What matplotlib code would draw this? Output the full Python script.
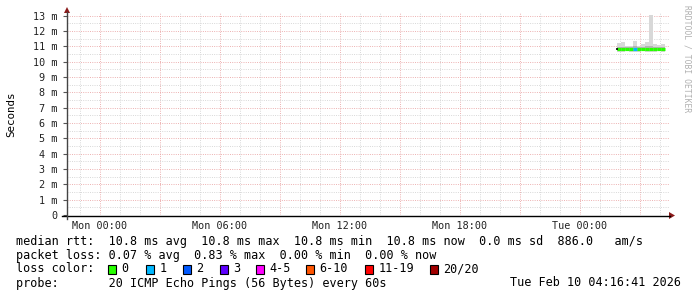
"""Smokeping-style latency chart (RRDtool look), saved as out.png."""

import matplotlib

matplotlib.use("Agg")
import matplotlib.pyplot as plt  # noqa: E402
from matplotlib.patches import Polygon, Rectangle  # noqa: E402

MONO = ["DejaVu Sans Mono"]

# --- data (hours since Mon 00:00, values in ms) ---------------------------
step_start = [25.85, 26.05, 26.25, 26.45, 26.65, 26.85, 27.05, 27.25, 27.45, 27.65, 27.85, 28.05]
step_end = [26.05, 26.25, 26.45, 26.65, 26.85, 27.05, 27.25, 27.45, 27.65, 27.85, 28.05, 28.25]
smoke_lo = [10.65, 10.66, 10.67, 10.66, 10.65, 10.66, 10.67, 10.66, 10.65, 10.66, 10.67, 10.66]
smoke_hi = [11.20, 11.27, 11.05, 11.00, 11.33, 11.05, 11.15, 11.30, 13.07, 11.15, 11.10, 11.15]
smoke_in_lo = [10.72, 10.73, 10.74, 10.73, 10.72, 10.73, 10.74, 10.73, 10.72, 10.73, 10.74, 10.73]
smoke_in_hi = [10.97, 10.99, 10.95, 10.94, 11.00, 10.96, 10.98, 11.01, 11.02, 10.97, 10.96, 10.97]
median = [10.84, 10.84, 10.84, 10.84, 10.83, 10.84, 10.84, 10.84, 10.84, 10.83, 10.84, 10.84]
loss = [0, 0, 0, 0, 1, 0, 0, 0, 0, 0, 0, 0]

x_ticks = [0, 6, 12, 18, 24]
x_tick_labels = ["Mon 00:00", "Mon 06:00", "Mon 12:00", "Mon 18:00", "Tue 00:00"]
y_ticks = list(range(0, 14))
y_tick_labels = ["0"] + [f"{v} m" for v in range(1, 14)]

loss_labels = ["0", "1", "2", "3", "4-5", "6-10", "11-19", "20/20"]
loss_colors = ["#26ff00", "#00b8ff", "#0059ff", "#5e00ff", "#ff00fe", "#ff5500", "#ff0000", "#a10000"]

stats_lines = [
    "median rtt:  10.8 ms avg  10.8 ms max  10.8 ms min  10.8 ms now  0.0 ms sd  886.0   am/s",
    "packet loss: 0.07 % avg  0.83 % max  0.00 % min  0.00 % now",
]
probe_text = "probe:       20 ICMP Echo Pings (56 Bytes) every 60s"
stamp_text = "Tue Feb 10 04:16:41 2026"

# --- layout (pixels) ------------------------------------------------------
W, H = 697, 297
PX_L, PX_R, PX_T, PX_B = 67, 669, 12, 215
PX_PER_H = 20.0
PX_ZERO_H = 100
PX_PER_MS = 15.33
LEG_X = [108, 146, 183, 220, 256, 306, 365, 430]

fig = plt.figure(figsize=(W / 100, H / 100), dpi=100)
ax = fig.add_axes([PX_L / W, (H - PX_B) / H, (PX_R - PX_L) / W, (PX_B - PX_T) / H])
ax.set_xlim((PX_L - PX_ZERO_H) / PX_PER_H, (PX_R - PX_ZERO_H) / PX_PER_H)
ax.set_ylim(0, (PX_B - PX_T) / PX_PER_MS)
for s in ax.spines.values():
    s.set_visible(False)

# grid: red-ish major every 3 h / 1 ms, grey minor every 1 h / 0.5 ms
dot = (0, (1, 1.5))
MAJ, MIN = "#eaa6a6", "#d2d2d2"
for h in range(-1, 29):
    ax.axvline(h, color=MAJ if h % 3 == 0 else MIN, lw=0.65, ls=dot, zorder=1)
for k in range(1, 27):
    ax.axhline(k / 2, color=MAJ if k % 2 == 0 else MIN, lw=0.65, ls=dot, zorder=1)

# smoke + median coloured by loss
for i in range(len(step_start)):
    a, b = step_start[i], step_end[i]
    ax.fill_between([a, b], smoke_lo[i], smoke_hi[i], color="#d8d8d8", lw=0, zorder=2)
    ax.fill_between([a, b], smoke_in_lo[i], smoke_in_hi[i], color="#b4b4b4", lw=0, zorder=2)
    ax.plot([a, b], [median[i], median[i]], color=loss_colors[loss[i]], lw=2.3,
            solid_capstyle="butt", zorder=3)
ax.plot([step_start[0] - 0.03, step_start[0] + 0.07], [median[0], median[0]],
        color="black", lw=1.2, solid_capstyle="butt", zorder=4)

ax.set_xticks(x_ticks)
ax.set_xticklabels(x_tick_labels, family=MONO, fontsize=7.3, color="#222222")
ax.set_yticks(y_ticks)
ax.set_yticklabels(y_tick_labels, family=MONO, fontsize=7.3, color="#222222")
ax.tick_params(axis="x", length=0, pad=4)
ax.tick_params(axis="y", length=3, pad=4, color="#555555", width=0.8)

# overlay in pixel coordinates for axes arrows and legend
ov = fig.add_axes([0, 0, 1, 1], zorder=5)
ov.set_xlim(0, W)
ov.set_ylim(H, 0)
ov.axis("off")
ov.text(11, 114, "Seconds", rotation=90, family=MONO, fontsize=7.8,
        ha="center", va="center")
ov.plot([62, 670], [PX_B + 0.5, PX_B + 0.5], color="black", lw=1.0)
ov.plot([PX_L, PX_L], [PX_B + 4, 12], color="#444444", lw=1.0)
ov.add_patch(Polygon([[669, 212], [669, 219], [675, PX_B + 0.5]], closed=True,
                     color="#8b1a1a", lw=0))
ov.add_patch(Polygon([[PX_L - 3, 13], [PX_L + 3, 13], [PX_L, 7]], closed=True,
                     color="#8b1a1a", lw=0))

ov.text(687, 5, "RRDTOOL / TOBI OETIKER", rotation=-90, family=MONO, fontsize=5.8,
        color="#b0b0b0", ha="center", va="top")

FS = 8.5
for j, line in enumerate(stats_lines):
    ov.text(16, 241 + 14 * j, line, family=MONO, fontsize=FS, va="center", ha="left")
ov.text(16, 269, "loss color:", family=MONO, fontsize=FS, va="center", ha="left")
for xpos, lab, col in zip(LEG_X, loss_labels, loss_colors):
    ov.add_patch(Rectangle((xpos, 264.5), 8, 9, facecolor=col, edgecolor="black", lw=0.8))
    ov.text(xpos + 13.5, 269, lab, family=MONO, fontsize=FS, va="center", ha="left")
ov.text(16, 283, probe_text, family=MONO, fontsize=FS, va="center", ha="left")
ov.text(681, 283, stamp_text, family=MONO, fontsize=FS, va="center", ha="right")

fig.savefig("out.png", dpi=100, facecolor="white")
